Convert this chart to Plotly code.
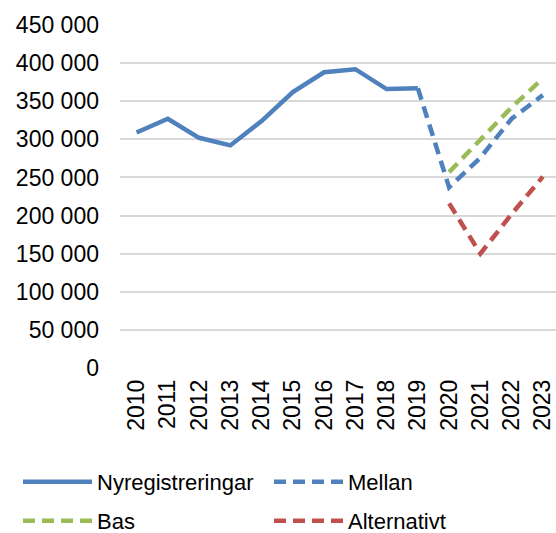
import plotly.graph_objects as go

years_hist = [2010, 2011, 2012, 2013, 2014, 2015, 2016, 2017, 2018, 2019]
nyreg = [309000, 327000, 302000, 292000, 324000, 362000, 388000, 392000, 366000, 367000]

years_mellan = [2019, 2020, 2021, 2022, 2023]
mellan = [367000, 237000, 276000, 327000, 358000]

years_scen = [2020, 2021, 2022, 2023]
bas = [257000, 299000, 342000, 380000]
alternativt = [216000, 150000, 202000, 251000]

all_years = list(range(2010, 2024))
y_ticks = [0, 50000, 100000, 150000, 200000, 250000, 300000, 350000, 400000, 450000]
y_ticktext = ["0", "50 000", "100 000", "150 000", "200 000", "250 000", "300 000", "350 000", "400 000", "450 000"]

BLUE = "#4f81bd"
GREEN = "#9bbb59"
RED = "#c0504d"
DASH = "12px,7px"
FONT = "Liberation Sans, Arial"
FS = 23

fig = go.Figure()
fig.add_trace(go.Scatter(x=years_hist, y=nyreg, mode="lines", name="Nyregistreringar",
                         line=dict(color=BLUE, width=4.5), legend="legend"))
fig.add_trace(go.Scatter(x=years_mellan, y=mellan, mode="lines", name="Mellan",
                         line=dict(color=BLUE, width=4.5, dash=DASH), legend="legend"))
fig.add_trace(go.Scatter(x=years_scen, y=bas, mode="lines", name="Bas",
                         line=dict(color=GREEN, width=4.5, dash=DASH), legend="legend2"))
fig.add_trace(go.Scatter(x=years_scen, y=alternativt, mode="lines", name="Alternativt",
                         line=dict(color=RED, width=4.5, dash=DASH), legend="legend2"))

W, H = 556, 533
ml, mr, mt, mb = 120, 0, 25, 165
pw = W - ml - mr
ph = H - mt - mb

def lx(px):
    return (px - ml) / pw

def ly(py):
    return (H - mb - py) / ph

legend_common = dict(orientation="h", xanchor="left", yanchor="middle",
                     font=dict(family=FONT, size=FS - 1, color="#000"),
                     entrywidth=167, entrywidthmode="pixels", bgcolor="rgba(0,0,0,0)",
                     traceorder="normal", itemwidth=69)

fig.update_layout(
    width=W, height=H,
    margin=dict(l=ml, r=mr, t=mt, b=mb, autoexpand=False),
    paper_bgcolor="white", plot_bgcolor="white",
    font=dict(family=FONT, size=FS, color="#000"),
    showlegend=True,
    legend=dict(**legend_common, x=lx(18), y=ly(482)),
    legend2=dict(**legend_common, x=lx(18), y=ly(521)),
    xaxis=dict(range=[2009.47, 2023.42], tickvals=all_years, ticktext=[str(y) for y in all_years],
               tickangle=-90, showgrid=False, zeroline=False, showline=False, ticks="",
               tickfont=dict(size=FS), ticklabelstandoff=6, automargin=False),
    yaxis=dict(range=[0, 450000], tickvals=y_ticks, ticktext=y_ticktext,
               showgrid=True, gridcolor="#d9d9d9", gridwidth=1.5, zeroline=False,
               showline=False, ticks="", tickfont=dict(size=FS), ticklabelstandoff=20,
               automargin=False),
)

fig.write_html("out.html", config={"displayModeBar": False},
               post_script="document.body.style.margin='0';")
